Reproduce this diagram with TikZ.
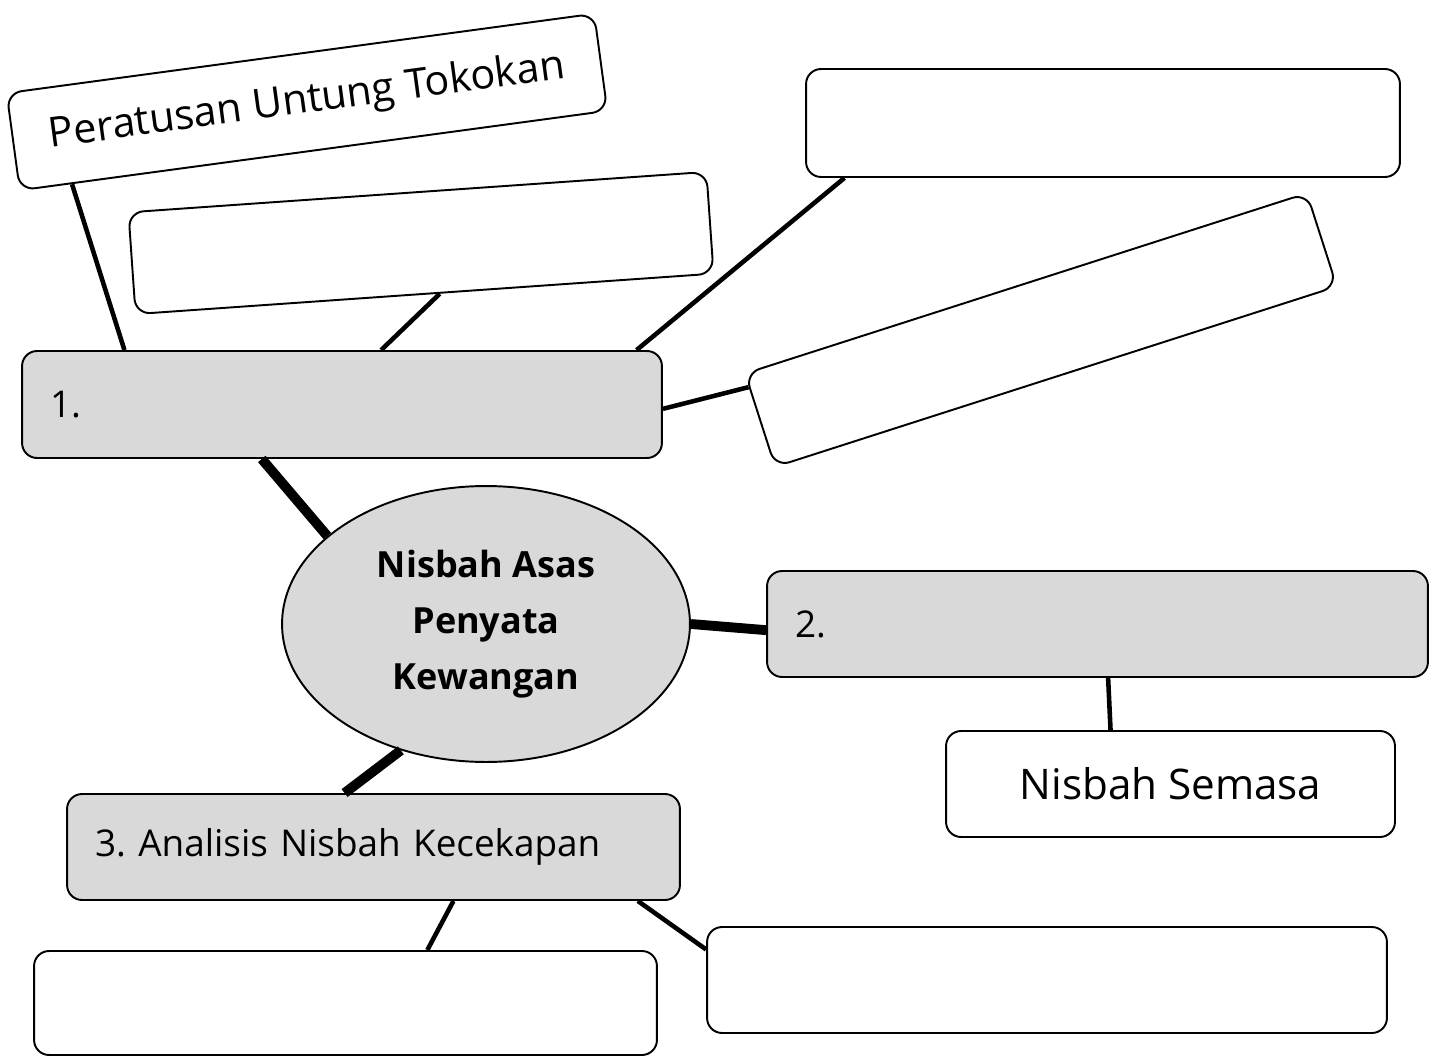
\documentclass[tikz,border=0pt]{standalone}
\usepackage{fontspec}
\setmainfont{Open Sans}
\usetikzlibrary{calc,shapes.geometric}
\definecolor{boxgray}{HTML}{D9D9D9}

\begin{document}
\begin{tikzpicture}[x=0.02cm,y=-0.02cm,
  blank/.style={draw,line width=1.1pt,rounded corners=0.3cm,fill=white,inner sep=0pt},
  main/.style={blank,fill=boxgray},
  numbered/.style={main,inner xsep=0.56cm,align=left,font=\fontsize{21}{25}\selectfont},
  link/.style={line width=2.6pt},
  trunk/.style={line width=5.6pt}]
\useasboundingbox (0,0) rectangle (1439,1057);
\node[main,ellipse,rounded corners=0pt,minimum width=8.16cm,minimum height=5.52cm,align=center,font=\bfseries\fontsize{20.5}{31.8}\selectfont] (hub) at (486,624) {Nisbah Asas\\Penyata\\Kewangan};
\node[numbered,minimum height=2.14cm,text width=11.68cm] (one) at (342,404.5) {1.};
\node[numbered,minimum height=2.12cm,text width=12.1cm] (two) at (1097.5,624) {2.};
\node[numbered,minimum height=2.12cm,text width=11.14cm] (three) at (373.5,847) {3.~Analisis Nisbah Kecekapan};
\node[blank,rotate=7.7,minimum width=11.86cm,minimum height=1.96cm,font=\fontsize{23.5}{28}\selectfont] (tokokan) at (307,102) {Peratusan Untung Tokokan\hspace{0.3cm}};
\node[blank,rotate=4,minimum width=11.59cm,minimum height=2.04cm] (oneA) at (421,243) {};
\node[blank,minimum width=11.88cm,minimum height=2.16cm] (oneB) at (1103,123) {};
\node[blank,rotate=17.8,minimum width=11.8cm,minimum height=1.96cm] (oneC) at (1041,330) {};
\node[blank,minimum width=8.98cm,minimum height=2.12cm,font=\fontsize{24}{28}\selectfont] (semasa) at (1170.5,784) {Nisbah Semasa};
\node[blank,minimum width=12.46cm,minimum height=2.08cm] (threeA) at (345.5,1003) {};
\node[blank,minimum width=13.6cm,minimum height=2.12cm] (threeB) at (1047,980) {};
% links to box 1
\draw[link] ($(tokokan.south west)!0.09!(tokokan.south east)$) -- ($(one.north west)!0.161!(one.north east)$);
\draw[link] ($(oneA.south west)!0.526!(oneA.south east)$) -- ($(one.north west)!0.561!(one.north east)$);
\draw[link] ($(oneB.south west)!0.066!(oneB.south east)$) -- ($(one.north west)!0.959!(one.north east)$);
\draw[link] ($(oneC.north west)!0.15!(oneC.south west)$) -- ($(one.north east)!0.54!(one.south east)$);
% trunks
\draw[trunk] ($(one.south west)!0.375!(one.south east)$) -- (hub.151);
\draw[trunk] (hub.east) -- ($(two.north west)!0.557!(two.south west)$);
\draw[trunk] (hub.236) -- ($(three.north west)!0.453!(three.north east)$);
% links from 2 and 3
\draw[link] ($(two.south west)!0.516!(two.south east)$) -- ($(semasa.north west)!0.367!(semasa.north east)$);
\draw[link] ($(three.south west)!0.63!(three.south east)$) -- ($(threeA.north west)!0.631!(threeA.north east)$);
\draw[link] ($(three.south west)!0.93!(three.south east)$) -- ($(threeB.north west)!0.217!(threeB.south west)$);
\end{tikzpicture}
\end{document}
